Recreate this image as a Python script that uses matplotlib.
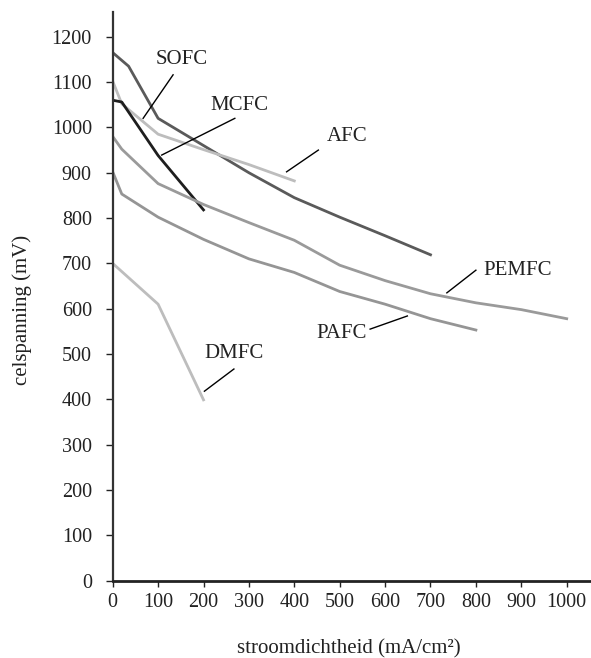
import numpy as np
import matplotlib
matplotlib.use('Agg')
import matplotlib.pyplot as plt

plt.rcParams['font.family'] = ['Liberation Serif', 'DejaVu Serif']

# current density (mA/cm2) and cell voltage (mV) per fuel cell type
sofc_x = [0, 35, 100, 200, 300, 400, 500, 600, 700]
sofc_y = [1165, 1135, 1020, 960, 900, 845, 802, 761, 719]

afc_x = [0, 20, 100, 200, 300, 400]
afc_y = [1102, 1052, 985, 951, 918, 882]

mcfc_x = [0, 20, 100, 200]
mcfc_y = [1060, 1056, 938, 818]

pemfc_x = [0, 20, 100, 200, 300, 400, 500, 600, 700, 800, 900, 1000]
pemfc_y = [980, 952, 876, 830, 790, 751, 696, 662, 633, 613, 598, 578]

pafc_x = [0, 20, 100, 200, 300, 400, 500, 600, 700, 800]
pafc_y = [902, 853, 802, 753, 710, 680, 638, 610, 578, 553]

dmfc_x = [0, 100, 200]
dmfc_y = [700, 610, 399]

xticks = list(range(0, 1001, 100))
yticks = list(range(0, 1201, 100))

W, H = 591, 658
fig = plt.figure(figsize=(W / 100, H / 100), dpi=100)
x0, y0 = 112.7, 580.7
ax = fig.add_axes([x0 / W, (H - y0) / H, (W - x0) / W, (y0 - 12) / H])
ax.set_xlim(0, (W - x0) / 0.454)
ax.set_ylim(0, (y0 - 12) / 0.4533)

lw = 2.0
ax.plot(sofc_x, sofc_y, color='#5a5a5a', lw=lw)
ax.plot(afc_x, afc_y, color='#bdbdbd', lw=lw)
ax.plot(mcfc_x, mcfc_y, color='#1e1e1e', lw=lw)
ax.plot(pemfc_x, pemfc_y, color='#9a9a9a', lw=lw)
ax.plot(pafc_x, pafc_y, color='#959595', lw=lw)
ax.plot(dmfc_x, dmfc_y, color='#bdbdbd', lw=lw)

# labels with leader lines: (text, text pos, line start, line end)
labels = [
    ('SOFC', (152, 1150), (133, 1116), (67, 1020)),
    ('MCFC', (279, 1048), (269, 1020), (108, 939)),
    ('AFC', (516, 980), (453, 950), (383, 902)),
    ('PEMFC', (892, 685), (800, 685), (736, 635)),
    ('PAFC', (504, 546), (567, 555), (649, 584)),
    ('DMFC', (267, 502), (267, 467), (202, 418)),
]
for txt, tpos, p1, p2 in labels:
    ax.text(tpos[0], tpos[1], txt, fontsize=15, ha='center', va='center',
            color='#222222')
    ax.plot([p1[0], p2[0]], [p1[1], p2[1]], color='black', lw=1.0)

for s in ['top', 'right']:
    ax.spines[s].set_visible(False)
ax.spines['left'].set_linewidth(1.6)
ax.spines['left'].set_color('#333333')
ax.spines['bottom'].set_linewidth(2.0)
ax.spines['bottom'].set_color('#222222')

ax.set_xticks(xticks)
ax.set_yticks(yticks)
ax.tick_params(axis='y', direction='out', length=5, width=1, pad=10,
               labelsize=14.5, colors='#222222')
ax.tick_params(axis='x', direction='out', length=4.5, width=1, pad=4,
               labelsize=14.5, colors='#222222')

fig.text(22 / W, 1 - 310 / H, 'celspanning (mV)', rotation=90,
         ha='center', va='center', fontsize=15, color='#222222')
fig.text(349 / W, 1 - 653 / H, 'stroomdichtheid (mA/cm\u00b2)',
         ha='center', va='baseline', fontsize=15, color='#222222')

fig.savefig('out.png', dpi=100)
